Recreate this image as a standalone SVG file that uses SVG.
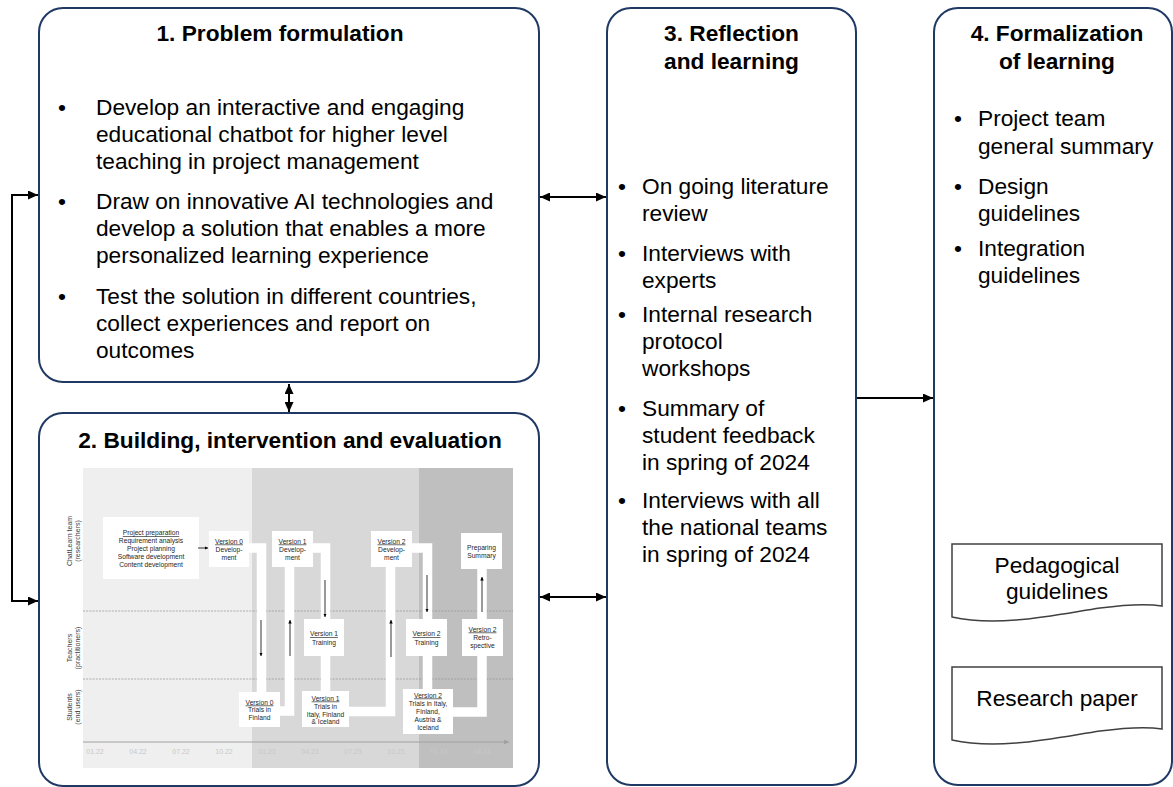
<svg xmlns="http://www.w3.org/2000/svg" width="1173" height="787" viewBox="0 0 1173 787">
  <style>
    .box { fill: #fff; stroke: #1f3864; stroke-width: 2; }
    .t { font-family: "Liberation Sans", Arial, sans-serif; font-size: 22.7px; fill: #000; }
    .h { font-weight: bold; text-anchor: middle; }
    .c { text-anchor: middle; }
    .conn { stroke: #000; stroke-width: 2; fill: none; }
    .doc { fill: #fff; stroke: #404040; stroke-width: 1.5; }
    .s { font-family: "Liberation Sans", Arial, sans-serif; font-size: 6.7px; fill: #262626; text-anchor: middle; }
    .lbl { font-family: "Liberation Sans", Arial, sans-serif; font-size: 7px; fill: #404040; text-anchor: middle; }
    .ax { font-family: "Liberation Sans", Arial, sans-serif; font-size: 7px; fill: #c8c8c8; text-anchor: middle; }
    .band { stroke: #fff; stroke-width: 9.5; fill: none; stroke-linejoin: miter; }
    .wb { fill: #fff; }
    .dash { stroke: #9a9a9a; stroke-width: 0.8; stroke-dasharray: 2 1.2; }
    .sa { stroke: #000; stroke-width: 0.8; fill: none; }
    .u { text-decoration: underline; }
  </style>
  <defs>
    <marker id="ah" viewBox="0 0 10 9" refX="10" refY="4.5" markerWidth="10" markerHeight="9" markerUnits="userSpaceOnUse" orient="auto-start-reverse">
      <path d="M0,0 L10,4.5 L0,9 z" fill="#000"/>
    </marker>
    <marker id="sah" viewBox="0 0 4 4" refX="4" refY="2" markerWidth="3.5" markerHeight="3.5" markerUnits="userSpaceOnUse" orient="auto">
      <path d="M0,0 L4,2 L0,4 z" fill="#000"/>
    </marker>
    <marker id="gah" viewBox="0 0 4 4" refX="4" refY="2" markerWidth="5" markerHeight="5" markerUnits="userSpaceOnUse" orient="auto">
      <path d="M0,0 L4,2 L0,4 z" fill="#a0a0a0"/>
    </marker>
  </defs>

  <!-- 1. Problem formulation -->
  <g id="problem-formulation">
    <rect class="box" x="39" y="8" width="500" height="374" rx="24"/>
    <text class="t h" x="280" y="41">1. Problem formulation</text>
    <text class="t" x="58" y="115">•</text>
    <text class="t" x="96" y="115">Develop an interactive and engaging</text>
    <text class="t" x="96" y="142">educational chatbot for higher level</text>
    <text class="t" x="96" y="169">teaching in project management</text>
    <text class="t" x="58" y="209">•</text>
    <text class="t" x="96" y="209">Draw on innovative AI technologies and</text>
    <text class="t" x="96" y="236">develop a solution that enables a more</text>
    <text class="t" x="96" y="263">personalized learning experience</text>
    <text class="t" x="58" y="304">•</text>
    <text class="t" x="96" y="304">Test the solution in different countries,</text>
    <text class="t" x="96" y="331">collect experiences and report on</text>
    <text class="t" x="96" y="358">outcomes</text>
  </g>

  <!-- 2. Building, intervention and evaluation -->
  <g id="building-intervention-evaluation">
    <rect class="box" x="39" y="413" width="500" height="373" rx="24"/>
    <text class="t h" x="290" y="448">2. Building, intervention and evaluation</text>

    <!-- timeline chart -->
    <g id="timeline">
      <rect x="83" y="468" width="169" height="300" fill="#efefef"/>
      <rect x="252" y="468" width="167" height="300" fill="#d8d8d8"/>
      <rect x="419" y="468" width="94" height="300" fill="#bfbfbf"/>

      <line class="dash" x1="83" y1="611" x2="513" y2="611"/>
      <line class="dash" x1="83" y1="679" x2="513" y2="679"/>
      <line x1="83" y1="742" x2="509" y2="742" stroke="#a0a0a0" stroke-width="1" marker-end="url(#gah)"/>

      <!-- row labels -->
      <text class="lbl" transform="translate(72,541) rotate(-90)">ChatLearn team</text>
      <text class="lbl" transform="translate(80,541) rotate(-90)">(researchers)</text>
      <text class="lbl" transform="translate(72,648) rotate(-90)">Teachers</text>
      <text class="lbl" transform="translate(80,648) rotate(-90)">(practitioners)</text>
      <text class="lbl" transform="translate(72,707) rotate(-90)">Students</text>
      <text class="lbl" transform="translate(80,707) rotate(-90)">(end users)</text>

      <!-- axis labels -->
      <text class="ax" x="95" y="754">01.22</text>
      <text class="ax" x="138" y="754">04.22</text>
      <text class="ax" x="181" y="754">07.22</text>
      <text class="ax" x="224" y="754">10.22</text>
      <text class="ax" x="267" y="754">01.23</text>
      <text class="ax" x="310" y="754">04.23</text>
      <text class="ax" x="353" y="754">07.23</text>
      <text class="ax" x="396" y="754">10.23</text>
      <text class="ax" x="439" y="754">01.24</text>
      <text class="ax" x="482" y="754">04.24</text>

      <!-- white flow bands -->
      <path class="band" d="M245,548 H261.5 V695"/>
      <path class="band" d="M276,711 H289.5 V563"/>
      <path class="band" d="M309,548 H325.5 V695"/>
      <path class="band" d="M345,711.5 H390.5 V563"/>
      <path class="band" d="M408,548 H427.5 V692"/>
      <path class="band" d="M449,712 H482 V565"/>

      <!-- stage boxes -->
      <rect class="wb" x="103" y="517" width="96" height="62"/>
      <text class="s" x="151" y="535"><tspan class="u">Project preparation</tspan></text>
      <text class="s" x="151" y="543">Requirement analysis</text>
      <text class="s" x="151" y="551">Project planning</text>
      <text class="s" x="151" y="559">Software development</text>
      <text class="s" x="151" y="567">Content development</text>

      <rect class="wb" x="209" y="531" width="40" height="36"/>
      <text class="s" x="229" y="543.5"><tspan class="u">Version 0</tspan></text>
      <text class="s" x="229" y="551.5">Develop-</text>
      <text class="s" x="229" y="559.5">ment</text>

      <rect class="wb" x="272" y="531" width="41" height="36"/>
      <text class="s" x="292.5" y="543.5"><tspan class="u">Version 1</tspan></text>
      <text class="s" x="292.5" y="551.5">Develop-</text>
      <text class="s" x="292.5" y="559.5">ment</text>

      <rect class="wb" x="371" y="531" width="41" height="36"/>
      <text class="s" x="391.5" y="543.5"><tspan class="u">Version 2</tspan></text>
      <text class="s" x="391.5" y="551.5">Develop-</text>
      <text class="s" x="391.5" y="559.5">ment</text>

      <rect class="wb" x="461" y="533" width="41" height="36"/>
      <text class="s" x="481.5" y="549.5">Preparing</text>
      <text class="s" x="481.5" y="557.5">Summary</text>

      <rect class="wb" x="304" y="619" width="40" height="37"/>
      <text class="s" x="324" y="636"><tspan class="u">Version 1</tspan></text>
      <text class="s" x="324" y="644.5">Training</text>

      <rect class="wb" x="406" y="619" width="41" height="37"/>
      <text class="s" x="426.5" y="636"><tspan class="u">Version 2</tspan></text>
      <text class="s" x="426.5" y="644.5">Training</text>

      <rect class="wb" x="462" y="619" width="41" height="37"/>
      <text class="s" x="482.5" y="631.5"><tspan class="u">Version 2</tspan></text>
      <text class="s" x="482.5" y="639.5">Retro-</text>
      <text class="s" x="482.5" y="648">spective</text>

      <rect class="wb" x="239" y="692" width="41" height="35"/>
      <text class="s" x="259.5" y="704.5"><tspan class="u">Version 0</tspan></text>
      <text class="s" x="259.5" y="712">Trials in</text>
      <text class="s" x="259.5" y="719.5">Finland</text>

      <rect class="wb" x="302" y="691" width="47" height="36"/>
      <text class="s" x="325.5" y="700.5"><tspan class="u">Version 1</tspan></text>
      <text class="s" x="325.5" y="708.5">Trials in</text>
      <text class="s" x="325.5" y="716.5">Italy, Finland</text>
      <text class="s" x="325.5" y="724">&amp; Iceland</text>

      <rect class="wb" x="403" y="689" width="50" height="45"/>
      <text class="s" x="428" y="697.5"><tspan class="u">Version 2</tspan></text>
      <text class="s" x="428" y="705.5">Trials in Italy,</text>
      <text class="s" x="428" y="713.5">Finland,</text>
      <text class="s" x="428" y="721.5">Austria &amp;</text>
      <text class="s" x="428" y="729.5">Iceland</text>

      <!-- small flow arrows -->
      <line class="sa" x1="198" y1="548" x2="208" y2="548" marker-end="url(#sah)"/>
      <line class="sa" x1="261" y1="620" x2="261" y2="656" marker-end="url(#sah)"/>
      <line class="sa" x1="290" y1="656" x2="290" y2="620" marker-end="url(#sah)"/>
      <line class="sa" x1="325" y1="580" x2="325" y2="617" marker-end="url(#sah)"/>
      <line class="sa" x1="391" y1="657" x2="391" y2="620" marker-end="url(#sah)"/>
      <line class="sa" x1="427" y1="575" x2="427" y2="612" marker-end="url(#sah)"/>
      <line class="sa" x1="482" y1="612" x2="482" y2="577" marker-end="url(#sah)"/>
    </g>
  </g>

  <!-- 3. Reflection and learning -->
  <g id="reflection-learning">
    <rect class="box" x="607" y="8" width="249" height="777" rx="24"/>
    <text class="t h" x="731.5" y="41">3. Reflection</text>
    <text class="t h" x="731.5" y="69">and learning</text>
    <text class="t" x="618" y="194">•</text>
    <text class="t" x="642" y="194">On going literature</text>
    <text class="t" x="642" y="221">review</text>
    <text class="t" x="618" y="261">•</text>
    <text class="t" x="642" y="261">Interviews with</text>
    <text class="t" x="642" y="288">experts</text>
    <text class="t" x="618" y="322">•</text>
    <text class="t" x="642" y="322">Internal research</text>
    <text class="t" x="642" y="349">protocol</text>
    <text class="t" x="642" y="376">workshops</text>
    <text class="t" x="618" y="416">•</text>
    <text class="t" x="642" y="416">Summary of</text>
    <text class="t" x="642" y="443">student feedback</text>
    <text class="t" x="642" y="470">in spring of 2024</text>
    <text class="t" x="618" y="508">•</text>
    <text class="t" x="642" y="508">Interviews with all</text>
    <text class="t" x="642" y="535">the national teams</text>
    <text class="t" x="642" y="562">in spring of 2024</text>
  </g>

  <!-- 4. Formalization of learning -->
  <g id="formalization-learning">
    <rect class="box" x="934" y="8" width="238" height="777" rx="24"/>
    <text class="t h" x="1057" y="41">4. Formalization</text>
    <text class="t h" x="1057" y="69">of learning</text>
    <text class="t" x="954" y="126">•</text>
    <text class="t" x="978" y="126">Project team</text>
    <text class="t" x="978" y="154">general summary</text>
    <text class="t" x="954" y="194">•</text>
    <text class="t" x="978" y="194">Design</text>
    <text class="t" x="978" y="221">guidelines</text>
    <text class="t" x="954" y="256">•</text>
    <text class="t" x="978" y="256">Integration</text>
    <text class="t" x="978" y="283">guidelines</text>
  </g>

  <g id="pedagogical-guidelines">
    <path class="doc" d="M952,544 H1162 V606 C1150,604 1130,604 1100,608 C1060,614 1000,628 952,617 Z"/>
    <text class="t c" x="1057" y="573">Pedagogical</text>
    <text class="t c" x="1057" y="599">guidelines</text>
  </g>

  <g id="research-paper">
    <path class="doc" d="M952,667 H1162 V729 C1150,727 1130,727 1100,731 C1060,737 1000,751 952,740 Z"/>
    <text class="t c" x="1057" y="706">Research paper</text>
  </g>

  <!-- connectors -->
  <g id="connectors">
    <path class="conn" d="M38,195 H12 V601 H38" marker-start="url(#ah)" marker-end="url(#ah)"/>
    <path class="conn" d="M289,384 V412" marker-start="url(#ah)" marker-end="url(#ah)"/>
    <path class="conn" d="M540,197 H606" marker-start="url(#ah)" marker-end="url(#ah)"/>
    <path class="conn" d="M540,597 H606" marker-start="url(#ah)" marker-end="url(#ah)"/>
    <path class="conn" d="M857,398 H933" marker-end="url(#ah)"/>
  </g>
</svg>
